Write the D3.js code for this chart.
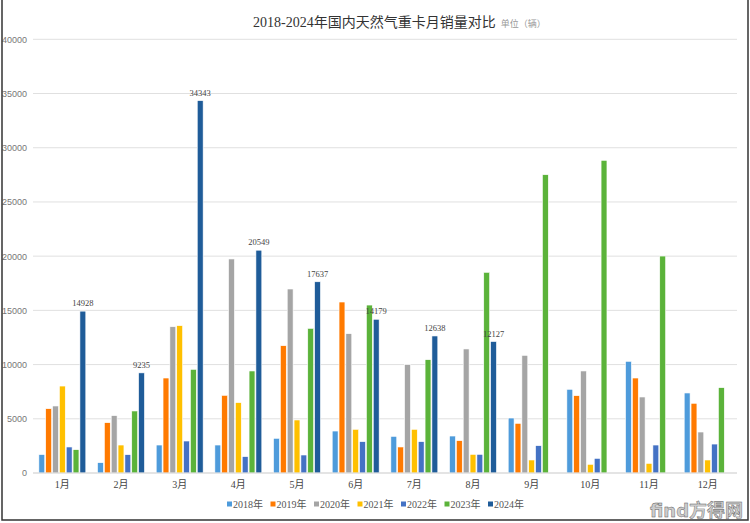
<!DOCTYPE html>
<html><head><meta charset="utf-8">
<script src="https://cdn.jsdelivr.net/npm/d3@7"></script>
<style>
html,body{margin:0;padding:0;background:#fff;}
svg{display:block;}
</style></head>
<body>
<svg id="chart" width="750" height="523"></svg>
<script>
const months = ["1月","2月","3月","4月","5月","6月","7月","8月","9月","10月","11月","12月"];
const years = ["2018年","2019年","2020年","2021年","2022年","2023年","2024年"];
const s2018 = [1700, 950, 2580, 2580, 3200, 3870, 3380, 3410, 5070, 7720, 10300, 7380];
const s2019 = [5930, 4640, 8760, 7160, 11740, 15770, 2400, 2980, 4580, 7130, 8760, 6430];
const s2020 = [6180, 5290, 13490, 19740, 16970, 12850, 9990, 11440, 10850, 9410, 7010, 3780];
const s2021 = [8020, 2580, 13590, 6490, 4890, 4030, 4030, 1720, 1200, 800, 890, 1200];
const s2022 = [2400, 1690, 2950, 1510, 1660, 2890, 2890, 1720, 2520, 1350, 2580, 2670];
const s2023 = [2150, 5720, 9560, 9410, 13340, 15490, 10450, 18510, 27510, 28840, 20010, 7870];
const s2024 = [14928, 9235, 34343, 20549, 17637, 14179, 12638, 12127, null, null, null, null];
const yTicks = [0, 5000, 10000, 15000, 20000, 25000, 30000, 35000, 40000];
const colors = ["#4E9BDB", "#FF7A00", "#A5A5A5", "#FFC000", "#4472C4", "#5BB33A", "#1F5C99"];

const series = [s2018, s2019, s2020, s2021, s2022, s2023, s2024];
const svg = d3.select("#chart");

const mLeft = 33, mRight = 737, mTop = 39.3, mBottom = 473;
const x = d3.scaleBand().domain(months).range([mLeft, mRight]).paddingInner(0.2).paddingOuter(0.1);
const xs = d3.scaleBand().domain(years).range([0, x.bandwidth()]).paddingInner(0.14);
const y = d3.scaleLinear().domain([0, 40000]).range([mBottom, mTop]);

// gridlines
svg.append("g").selectAll("line").data(yTicks).join("line")
  .attr("x1", mLeft).attr("x2", mRight)
  .attr("y1", d => y(d)).attr("y2", d => y(d))
  .attr("stroke", "#e0e0e0").attr("stroke-width", 1);

// y axis labels
const yAxis = d3.axisLeft(y).tickValues(yTicks).tickSize(0).tickPadding(6).tickFormat(d3.format("d"));
const ya = svg.append("g").attr("transform", `translate(${mLeft},0)`).call(yAxis);
ya.select(".domain").remove();
ya.selectAll("text").attr("fill", "#777").attr("font-size", "9px")
  .attr("font-family", "'Liberation Sans', Arial, sans-serif").attr("text-anchor", "end");

// bars
const groups = svg.append("g").selectAll("g").data(months).join("g")
  .attr("transform", d => `translate(${x(d)},0)`);
groups.selectAll("rect")
  .data((m, i) => series.map((s, k) => ({yr: years[k], v: s[i], c: colors[k]})).filter(d => d.v != null))
  .join("rect")
  .attr("x", d => xs(d.yr))
  .attr("width", xs.bandwidth())
  .attr("y", d => y(d.v))
  .attr("height", d => y(0) - y(d.v))
  .attr("fill", d => d.c)
  .attr("stroke", "#fff").attr("stroke-width", 0.6);

// data labels for 2024
groups.append("text")
  .datum((m, i) => s2024[i])
  .filter(d => d != null)
  .attr("x", xs("2024年") + xs.bandwidth() / 2)
  .attr("y", d => y(d) - 5)
  .attr("text-anchor", "middle")
  .attr("font-size", "8.5px")
  .attr("font-family", "'Liberation Serif', 'DejaVu Serif', serif")
  .attr("fill", "#444")
  .text(d => d);

// x axis line and labels
svg.append("line").attr("x1", mLeft).attr("x2", mRight).attr("y1", mBottom).attr("y2", mBottom)
  .attr("stroke", "#d9d9d9").attr("stroke-width", 1);
const xAxis = d3.axisBottom(x).tickSize(0).tickPadding(8);
const xa = svg.append("g").attr("transform", `translate(0,${mBottom})`).call(xAxis);
xa.select(".domain").remove();
xa.selectAll("text").attr("fill", "#444").attr("font-size", "10px")
  .attr("font-family", "'Liberation Serif', 'Noto Sans CJK SC', serif");

// title
const title = svg.append("text").attr("x", 253).attr("y", 27)
  .attr("font-family", "'Liberation Serif', 'Noto Sans CJK SC', serif")
  .attr("fill", "#333");
title.append("tspan").attr("font-size", "14px").text("2018-2024年国内天然气重卡月销量对比");
title.append("tspan").attr("font-size", "9px").attr("fill", "#999").attr("dx", 5).text("单位（辆）");

// legend
const legend = svg.append("g").attr("transform", "translate(227,505)");
const itemW = 43.5;
const li = legend.selectAll("g").data(years).join("g")
  .attr("transform", (d, i) => `translate(${i * itemW},0)`);
li.append("rect").attr("x", 0).attr("y", -3.5).attr("width", 5).attr("height", 5)
  .attr("fill", (d, i) => colors[i]);
li.append("text").attr("x", 6).attr("y", 1).attr("dominant-baseline", "middle")
  .attr("font-size", "10px").attr("fill", "#555")
  .attr("font-family", "'Liberation Serif', 'Noto Sans CJK SC', serif")
  .text(d => d);

// frame
svg.append("path").attr("d", "M2,0 V520 H748 V0")
  .attr("fill", "none").attr("stroke", "#333").attr("stroke-width", 1.5);

// watermark
svg.append("text").attr("x", 650).attr("y", 517)
  .attr("font-family", "'DejaVu Sans', 'Noto Sans CJK SC', sans-serif")
  .attr("font-size", "18px").attr("font-weight", "bold").attr("fill", "#ccc")
  .attr("stroke", "#555").attr("stroke-width", 0.4)
  .text("find方得网");
</script>
</body></html>
